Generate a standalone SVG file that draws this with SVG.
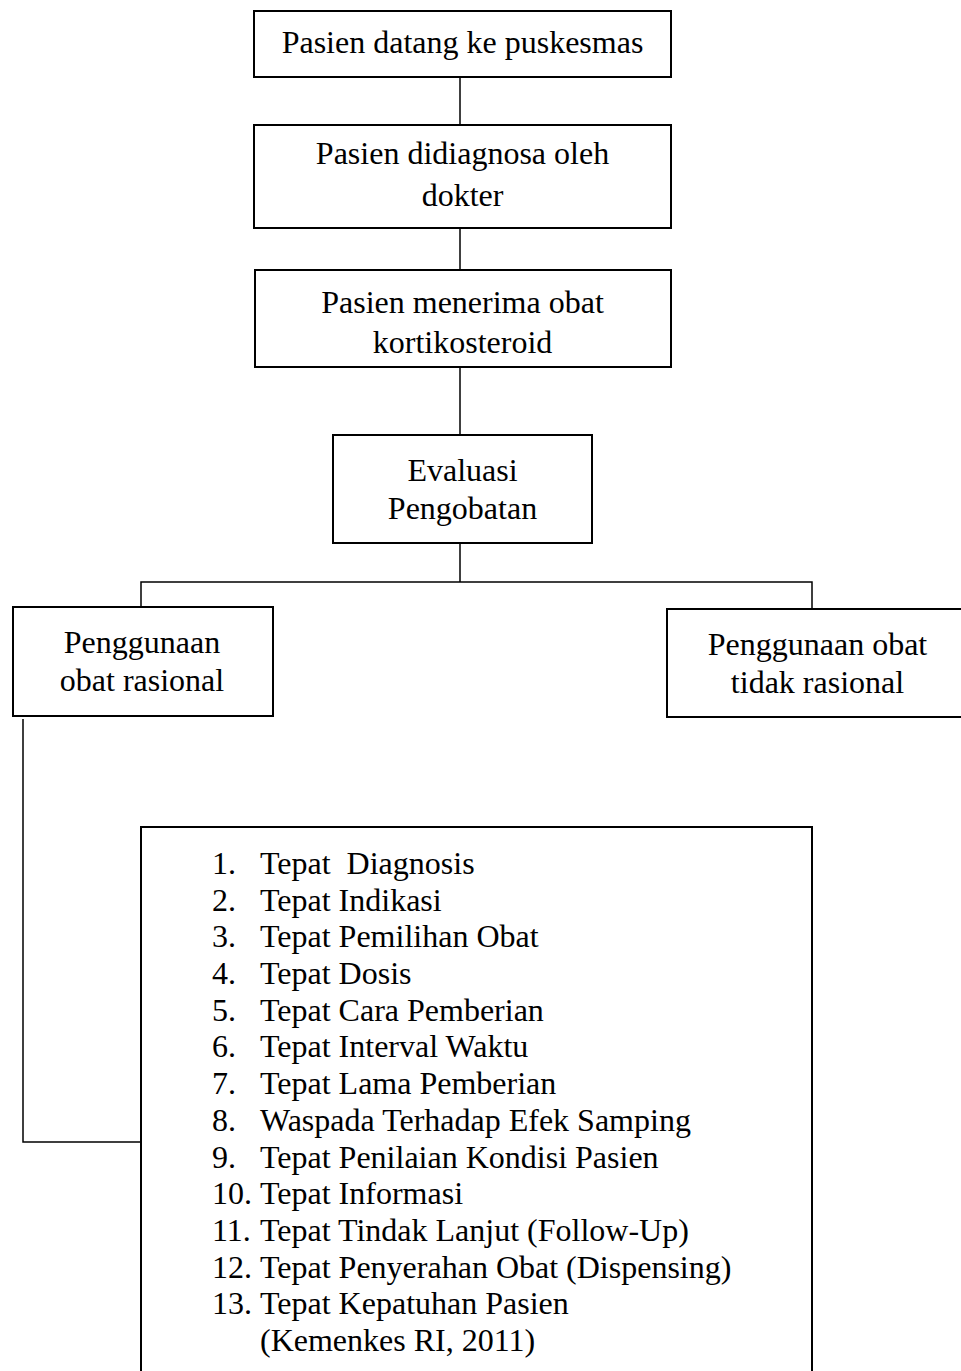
<svg xmlns="http://www.w3.org/2000/svg" width="961" height="1371" viewBox="0 0 961 1371">
<style>
.box{fill:#fff;stroke:#000;stroke-width:2}
.ln{fill:none;stroke:#000;stroke-width:1.5}
text{font-family:"Liberation Serif","Times New Roman",serif;font-size:32px;fill:#000;white-space:pre}
.c{text-anchor:middle}
</style>
<rect width="961" height="1371" fill="#fff"/>
<g id="connectors">
<line class="ln" x1="460" y1="77" x2="460" y2="125"/>
<line class="ln" x1="460" y1="228" x2="460" y2="270"/>
<line class="ln" x1="460" y1="367" x2="460" y2="435"/>
<line class="ln" x1="460" y1="543" x2="460" y2="582"/>
<polyline class="ln" points="141,607 141,582 812,582 812,609"/>
<polyline class="ln" points="23,719 23,1142 141,1142"/>
</g>
<g id="n1">
<rect class="box" x="254" y="11" width="417" height="66"/>
<text class="c" x="462.5" y="53">Pasien datang ke puskesmas</text>
</g>
<g id="n2">
<rect class="box" x="254" y="125" width="417" height="103"/>
<text class="c" x="462.5" y="164">Pasien didiagnosa oleh</text>
<text class="c" x="462.5" y="206">dokter</text>
</g>
<g id="n3">
<rect class="box" x="255" y="270" width="416" height="97"/>
<text class="c" x="462.5" y="313">Pasien menerima obat</text>
<text class="c" x="462.5" y="353">kortikosteroid</text>
</g>
<g id="n4">
<rect class="box" x="333" y="435" width="259" height="108"/>
<text class="c" x="462.5" y="481">Evaluasi</text>
<text class="c" x="462.5" y="519">Pengobatan</text>
</g>
<g id="n5">
<rect class="box" x="13" y="607" width="260" height="109"/>
<text class="c" x="142" y="653">Penggunaan</text>
<text class="c" x="142" y="691">obat rasional</text>
</g>
<g id="n6">
<rect class="box" x="667" y="609" width="302" height="108"/>
<text class="c" x="817.5" y="655">Penggunaan obat</text>
<text class="c" x="817.5" y="693">tidak rasional</text>
</g>
<g id="n7">
<rect class="box" x="141" y="827" width="671" height="560"/>
<text x="212" y="874">1.</text><text x="260" y="874" xml:space="preserve">Tepat  Diagnosis</text>
<text x="212" y="911">2.</text><text x="260" y="911">Tepat Indikasi</text>
<text x="212" y="947">3.</text><text x="260" y="947">Tepat Pemilihan Obat</text>
<text x="212" y="984">4.</text><text x="260" y="984">Tepat Dosis</text>
<text x="212" y="1021">5.</text><text x="260" y="1021">Tepat Cara Pemberian</text>
<text x="212" y="1057">6.</text><text x="260" y="1057">Tepat Interval Waktu</text>
<text x="212" y="1094">7.</text><text x="260" y="1094">Tepat Lama Pemberian</text>
<text x="212" y="1131">8.</text><text x="260" y="1131">Waspada Terhadap Efek Samping</text>
<text x="212" y="1168">9.</text><text x="260" y="1168">Tepat Penilaian Kondisi Pasien</text>
<text x="212" y="1204">10.</text><text x="260" y="1204">Tepat Informasi</text>
<text x="212" y="1241">11.</text><text x="260" y="1241">Tepat Tindak Lanjut (Follow-Up)</text>
<text x="212" y="1278">12.</text><text x="260" y="1278">Tepat Penyerahan Obat (Dispensing)</text>
<text x="212" y="1314">13.</text><text x="260" y="1314">Tepat Kepatuhan Pasien</text>
<text x="260" y="1351">(Kemenkes RI, 2011)</text>
</g>
</svg>
